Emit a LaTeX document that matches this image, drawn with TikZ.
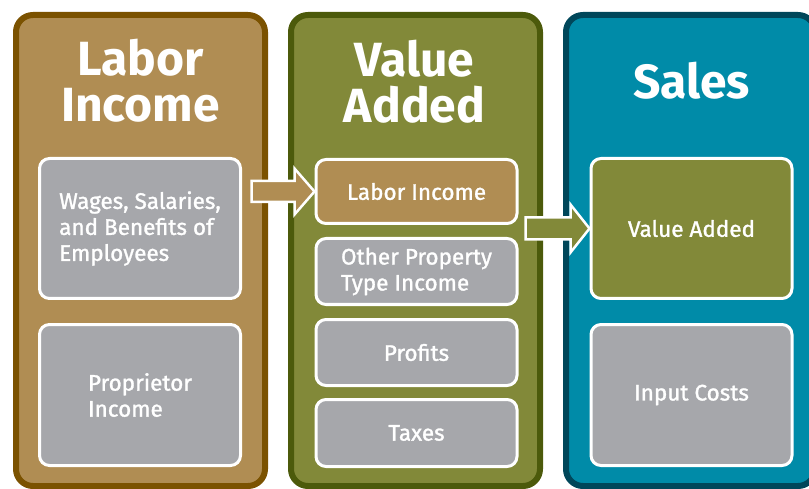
\documentclass[tikz,border=0pt]{standalone}
\usepackage{fontspec}
\setmainfont{Fira Sans}
\newfontfamily\semibfont[FakeBold=1.3]{Fira Sans}
\usetikzlibrary{calc}
\definecolor{labF}{HTML}{B08D53}
\definecolor{labB}{HTML}{7B5200}
\definecolor{valF}{HTML}{828939}
\definecolor{valB}{HTML}{4C5A0B}
\definecolor{salF}{HTML}{008BA8}
\definecolor{salB}{HTML}{00475A}
\definecolor{grayF}{HTML}{A6A7AB}
\tikzset{
  panel/.style={line width=6pt, rounded corners=17pt},
  ptitle/.style={text=white, align=center, font=\bfseries\fontsize{48}{46}\selectfont, inner sep=0pt},
  inbox/.style={draw=white, line width=3pt, rounded corners=10pt, fill=grayF, minimum width=201pt,
     text=white, align=left, font=\semibfont\fontsize{22.5}{26}\selectfont, inner sep=0pt},
  blockarrow/.style={draw=white, line width=2.5pt, line join=miter}
}
\begin{document}
\begin{tikzpicture}[x=1pt,y=-1pt]
\useasboundingbox (0,0) rectangle (809,489);
% panels
\draw[panel, draw=labB, fill=labF] (16,15) rectangle (265,486);
\draw[panel, draw=valB, fill=valF] (291,15) rectangle (540,486);
\draw[panel, draw=salB, fill=salF] (566,15) rectangle (815,486);
% titles
\node[ptitle] (tLab) at (140.5,81) {Labor\\Income};
\node[ptitle] (tVal) at (414.5,82) {Value\\Added};
\node[ptitle] (tSal) at (691.5,81) {Sales};
% labor income panel boxes
\node[inbox, minimum height=140pt] (lWages) at (140,228.5) {Wages, Salaries,\\and Benefits of\\Employees};
\node[inbox, minimum height=141pt] (lProp) at (140,395) {Proprietor\\Income};
% value added panel boxes
\node[inbox, minimum height=64pt, fill=labF, align=center] (vLab) at (416.5,191.5) {Labor Income};
\node[inbox, minimum height=66pt] (vOther) at (416.5,271.5) {Other Property\\Type Income};
\node[inbox, minimum height=66pt, align=center] (vProf) at (416.5,352.5) {Profits};
\node[inbox, minimum height=67pt, align=center] (vTax) at (416.5,433) {Taxes};
% sales panel boxes
\node[inbox, minimum height=140pt, fill=valF, align=center] (sVal) at (691.5,228.5) {Value Added};
\node[inbox, minimum height=141pt, align=center] (sIn) at (691.5,395) {Input Costs};
% arrows
\draw[blockarrow, fill=labF] ($(vLab.west)+(-63,-10.5)$) -- ++(43,0) -- ++(0,-12.5) -- (vLab.west)
   -- ($(vLab.west)+(-20,23)$) -- ++(0,-12.5) -- ++(-43,0) -- cycle;
\draw[blockarrow, fill=valF] ($(sVal.west)+(-64,-11)$) -- ++(45,0) -- ++(0,-13) -- (sVal.west)
   -- ($(sVal.west)+(-19,24)$) -- ++(0,-13) -- ++(-45,0) -- cycle;
\end{tikzpicture}
\end{document}
